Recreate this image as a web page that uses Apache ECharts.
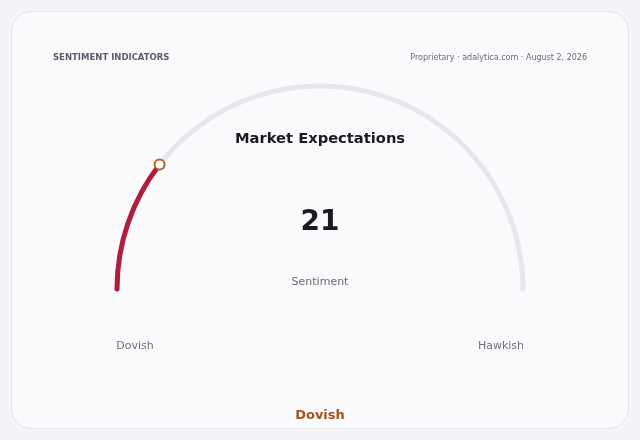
<!DOCTYPE html>
<html>
<head>
<meta charset="utf-8">
<script src="https://cdn.jsdelivr.net/npm/echarts@6/dist/echarts.min.js"></script>
<style>
html,body{margin:0;padding:0;background:#f4f4f8;}
#chart{width:640px;height:440px;}
</style>
</head>
<body>
<div id="chart"></div>
<script>
var gaugeMin = 0;
var gaugeMax = 100;
var sentimentValue = [21];
var sentimentName = ['Sentiment'];
var scaleLabels = ['Dovish', 'Hawkish'];
var classification = ['Dovish'];
var headerLeft = 'SENTIMENT INDICATORS';
var headerRight = 'Proprietary · adalytica.com · August 2, 2026';
var chartTitle = 'Market Expectations';

var FONT = 'DejaVu Sans';
var chart = echarts.init(document.getElementById('chart'), null, {renderer: 'canvas'});

var option = {
  backgroundColor: '#f4f4f8',
  animation: false,
  graphic: [{
    type: 'rect', z: -10,
    shape: {x: 11.5, y: 11.5, width: 617, height: 417, r: 20},
    style: {fill: '#fafafd', stroke: '#e3e3eb', lineWidth: 1}
  }],
  title: [
    {text: headerLeft, left: 53, top: 53, padding: 0, textStyle: {fontFamily: FONT, fontSize: 8.5, fontWeight: 'bold', color: '#5b5b6e'}},
    {text: headerRight, right: 53, top: 54, padding: 0, textStyle: {fontFamily: FONT, fontSize: 8, fontWeight: 'normal', color: '#6b6b7b'}},
    {text: chartTitle, left: 'center', top: 132, padding: 0, textStyle: {fontFamily: FONT, fontSize: 14.7, fontWeight: 'bold', color: '#1a1a1f'}},
    {text: scaleLabels[0], left: 135, textAlign: 'center', top: 341, padding: 0, textStyle: {fontFamily: FONT, fontSize: 11, fontWeight: 'normal', color: '#6f6f7f'}},
    {text: scaleLabels[1], left: 501, textAlign: 'center', top: 341, padding: 0, textStyle: {fontFamily: FONT, fontSize: 11, fontWeight: 'normal', color: '#6f6f7f'}},
    {text: classification[0], left: 'center', top: 409, padding: 0, textStyle: {fontFamily: FONT, fontSize: 13, fontWeight: 'bold', color: '#a2561c'}}
  ],
  polar: {center: [320, 289], radius: [0, 203]},
  angleAxis: {type: 'value', min: gaugeMin, max: gaugeMax * 2, startAngle: 180, clockwise: true, show: false},
  radiusAxis: {type: 'value', min: 0, max: 1, show: false},
  series: [
    {
      type: 'gauge',
      center: [320, 289],
      radius: 205.5,
      startAngle: 180,
      endAngle: 0,
      min: gaugeMin,
      max: gaugeMax,
      axisLine: {roundCap: true, lineStyle: {width: 5, color: [[1, '#e6e6ec']]}},
      progress: {show: true, roundCap: true, width: 5, itemStyle: {color: '#b01e3c'}},
      pointer: {show: false},
      anchor: {show: false},
      axisTick: {show: false},
      splitLine: {show: false},
      axisLabel: {show: false},
      title: {show: true, offsetCenter: [0, -7], fontFamily: FONT, fontSize: 11, color: '#6b6b78'},
      detail: {show: true, offsetCenter: [0, -66], valueAnimation: false, fontFamily: FONT, fontSize: 28, fontWeight: 'bold', color: '#1a1a1f', formatter: '{value}'},
      data: sentimentValue.map(function (v, i) { return {value: v, name: sentimentName[i]}; })
    },
    {
      type: 'scatter',
      coordinateSystem: 'polar',
      symbol: 'circle',
      symbolSize: 10,
      z: 10,
      itemStyle: {color: '#ffffff', borderColor: '#b5651d', borderWidth: 2, opacity: 1},
      data: sentimentValue.map(function (v) { return [1, v]; })
    }
  ]
};
chart.setOption(option);
</script>
</body>
</html>
